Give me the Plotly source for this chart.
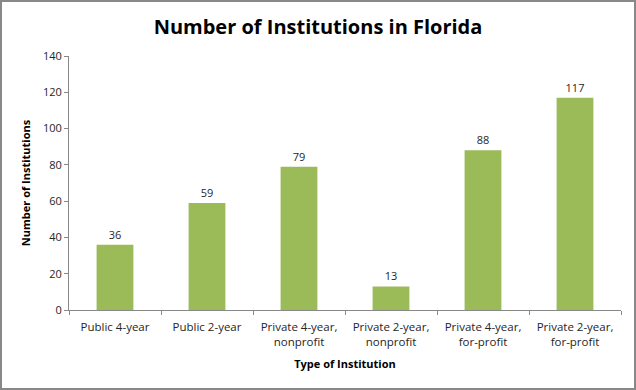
import plotly.graph_objects as go

categories = ["Public 4-year", "Public 2-year", "Private 4-year,<br>nonprofit",
              "Private 2-year,<br>nonprofit", "Private 4-year,<br>for-profit",
              "Private 2-year,<br>for-profit"]
counts = [36, 59, 79, 13, 88, 117]
y_ticks = [0, 20, 40, 60, 80, 100, 120, 140]

W, H = 636, 390
L, R, T, B = 69, 15, 56, 80
pw, ph = W - L - R, H - T - B

fig = go.Figure(go.Bar(
    x=categories, y=counts, marker_color="#9BBB59", marker_line_width=0,
    text=[str(v) for v in counts], textposition="outside", cliponaxis=False,
    textfont=dict(family="Open Sans, Liberation Sans", size=11, color="#262626"),
))

fig.update_layout(
    width=W, height=H, margin=dict(l=L, r=R, t=T, b=B),
    paper_bgcolor="white", plot_bgcolor="white", bargap=0.6,
    showlegend=False,
    title=dict(text="<b>Number of Institutions in Florida</b>", x=0.5, xanchor="center",
               y=1 - 27 / H, yanchor="middle",
               font=dict(family="Open Sans, Liberation Sans", size=20, color="black")),
    font=dict(family="Open Sans, Liberation Sans", size=11, color="#262626"),
    xaxis=dict(showline=True, linecolor="#888", linewidth=1, ticks="outside",
               tickson="boundaries", ticklen=4, tickcolor="#888",
               ticklabelstandoff=6,
               tickfont=dict(size=11.5, color="#262626"),
               title=dict(text="<b>Type of Institution</b>", standoff=12,
                          font=dict(size=11, color="black"))),
    yaxis=dict(range=[0, 140], tickvals=y_ticks, showline=True, linecolor="#888",
               linewidth=1, ticks="outside", ticklen=4, tickcolor="#888",
               showgrid=False, zeroline=False,
               tickfont=dict(size=11, color="#262626"),
               title=dict(text="<b>Number of Institutions</b>", standoff=10,
                          font=dict(size=11, color="black"))),
    shapes=[dict(type="rect", xref="paper", yref="paper",
                 x0=-(L - 1) / pw, x1=1 + (R - 1) / pw,
                 y0=-(B - 1) / ph, y1=1 + (T - 1) / ph,
                 line=dict(color="#888", width=2), fillcolor="rgba(0,0,0,0)")],
)

fig.write_html("out.html", config={"displayModeBar": False},
               post_script="document.body.style.margin='0';document.body.style.overflow='hidden';")
